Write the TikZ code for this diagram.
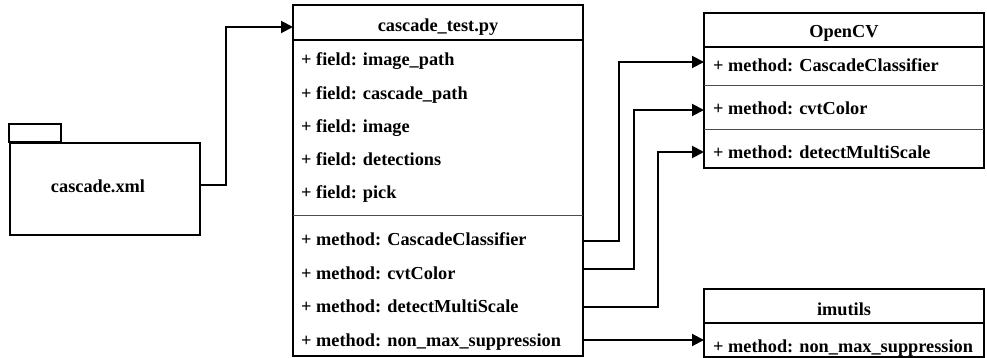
\documentclass[tikz,border=0pt]{standalone}
\usepackage{fontspec}
\setmainfont{Liberation Serif}
\usetikzlibrary{arrows.meta}
\begin{document}
\begin{tikzpicture}[x=1pt,y=-1pt,
  box/.style={draw,line width=2pt,inner sep=0pt,fill=white},
  txt/.style={font=\fontsize{18.3}{21}\selectfont\bfseries,inner sep=0pt},
  thin/.style={line width=1pt,draw=black!70},
  thick/.style={line width=2pt},
  conn/.style={line width=2pt},
  arr/.style={line width=2pt,-{Triangle[length=12pt,width=12pt]}}]
\useasboundingbox (0,0) rectangle (987,358);
% cascade.xml package
\node[box,minimum width=190pt,minimum height=92pt] (xml) at (105,189) {};
\draw[line width=2pt] (xml.north west) rectangle ++(52,-18);
\node[txt] (xmlt) at (98,186) {cascade.xml};
% main class
\node[box,minimum width=290pt,minimum height=351pt] (main) at (438,180.5) {};
\node[txt,anchor=base] (hdr) at (438,32) {cascade\_test.py};
\draw[thick] (293,40) -- (583,40);
\draw[thin] (293,215) -- (583,215);
\node[txt,anchor=base west] (f1) at (301,66) {+ field: image\_path};
\node[txt,anchor=base west] (f2) at (301,99.5) {+ field: cascade\_path};
\node[txt,anchor=base west] (f3) at (301,133) {+ field: image};
\node[txt,anchor=base west] (f4) at (301,166) {+ field: detections};
\node[txt,anchor=base west] (f5) at (301,199) {+ field: pick};
\node[txt,anchor=base west] (m1) at (301,245.5) {+ method: CascadeClassifier};
\node[txt,anchor=base west] (m2) at (301,279) {+ method: cvtColor};
\node[txt,anchor=base west] (m3) at (301,312.5) {+ method: detectMultiScale};
\node[txt,anchor=base west] (m4) at (301,346) {+ method: non\_max\_suppression};
% OpenCV
\node[box,minimum width=280pt,minimum height=155pt] (ocv) at (844,90.5) {};
\node[txt,anchor=base] (ocvh) at (844,38) {OpenCV};
\draw[thick] (704,47) -- (984,47);
\draw[thin] (704,86) -- (984,86);
\draw[thin] (704,130) -- (984,130);
\node[txt,anchor=base west] (o1) at (713,72) {+ method: CascadeClassifier};
\node[txt,anchor=base west] (o2) at (713,115) {+ method: cvtColor};
\node[txt,anchor=base west] (o3) at (713,159) {+ method: detectMultiScale};
% imutils
\node[box,minimum width=280pt,minimum height=68pt] (imu) at (844,323) {};
\node[txt,anchor=base] (imuh) at (844,315) {imutils};
\draw[thick] (704,323) -- (984,323);
\node[txt,anchor=base west] (i1) at (713,352) {+ method: non\_max\_suppression};
% connector coordinates
\coordinate (s1) at (583,241);
\coordinate (s2) at (583,269);
\coordinate (s3) at (583,307);
\coordinate (s4) at (583,340);
\coordinate (t1) at (704,62);
\coordinate (t2) at (704,110);
\coordinate (t3) at (704,152);
\coordinate (t4) at (704,340);
\coordinate (tx) at (293,27);
% connectors
\draw[arr] (xml.east |- 0,185) -- (226,185) |- (tx);
\draw[arr] (s1) -- (619,241) |- (t1);
\draw[arr] (s2) -- (634,269) |- (t2);
\draw[arr] (s3) -- (658,307) |- (t3);
\draw[arr] (s4) -- (t4);
\end{tikzpicture}
\end{document}
